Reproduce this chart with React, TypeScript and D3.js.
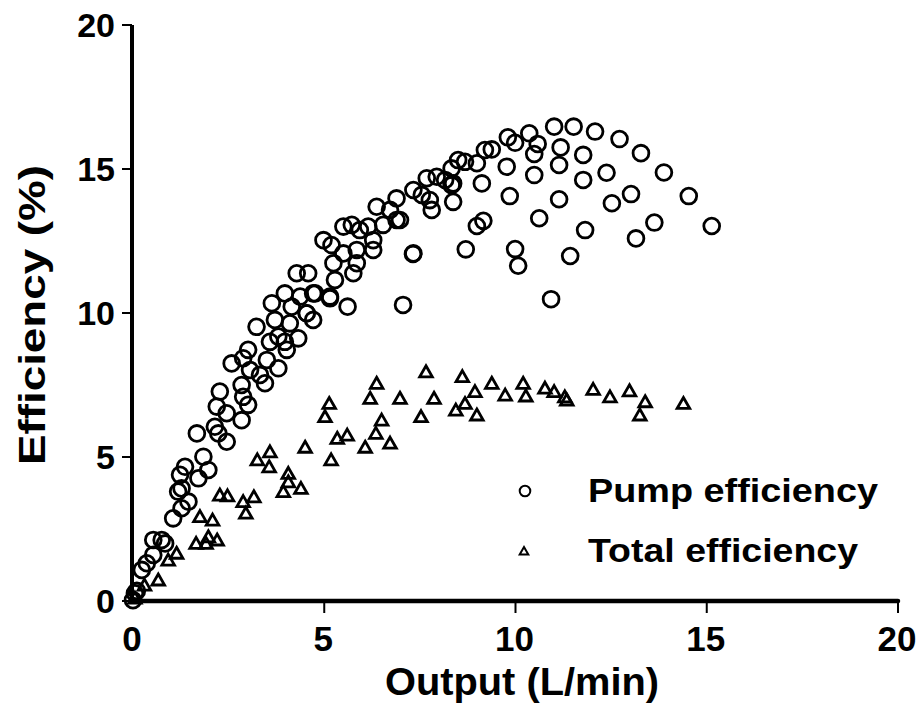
import React from "react";
import * as d3 from "d3";

// Pump efficiency (%) vs Output (L/min)
const pumpX: number[] = [
  0.0, 0.05, 0.1, 0.23, 0.36, 0.53, 0.53, 0.75, 0.84, 1.05, 1.18, 1.27, 1.27, 1.45, 1.23, 1.36, 1.71, 1.84, 1.97, 1.67,
  2.14, 2.23, 2.45, 2.19, 2.45, 2.84, 2.27, 2.84, 2.88, 3.01, 3.45, 3.32, 3.8, 3.5, 3.06, 2.88, 2.58, 3.01, 4.02, 3.58,
  3.97, 3.8, 4.32, 3.23, 3.71, 4.1, 4.54, 4.71, 3.63, 4.15, 4.37, 3.97, 4.71, 5.15, 4.28, 4.58, 5.28, 5.61, 5.76, 5.85,
  5.24, 5.5, 5.85, 5.19, 4.98, 6.28, 6.28, 5.5, 5.72, 5.93, 6.15, 6.54, 6.89, 6.72, 6.37, 6.89, 7.33, 7.55, 7.76, 7.81,
  7.68, 7.94, 8.16, 8.33, 8.37, 8.37, 8.33, 8.5, 8.68, 8.99, 9.2, 9.38, 9.12, 9.85, 9.77, 9.8, 9.99, 10.36, 10.58, 10.49,
  10.49, 11.01, 11.52, 12.08, 12.72, 13.28, 13.88, 14.53, 15.13, 11.18, 11.77, 11.14, 11.77, 12.38, 13.02, 12.52, 13.63, 13.15, 11.82, 11.14,
  10.62, 9.16, 8.99, 8.7, 9.99, 10.07, 11.43, 10.93, 6.98, 7.32, 7.06, 7.33, 5.15, 4.76, 4.54,
];
const pumpY: number[] = [
  0.03, 0.27, 0.35, 1.08, 1.31, 1.6, 2.12, 2.12, 2.0, 2.87, 3.8, 3.91, 3.22, 3.45, 4.38, 4.66, 4.26, 5.01, 4.55, 5.82,
  6.05, 5.82, 5.53, 6.75, 6.52, 6.28, 7.27, 7.5, 7.09, 6.81, 7.56, 7.85, 8.08, 8.37, 8.02, 8.43, 8.25, 8.72, 8.72, 9.0,
  9.0, 9.18, 9.12, 9.52, 9.76, 9.64, 9.99, 9.76, 10.34, 10.22, 10.57, 10.68, 10.68, 10.57, 11.38, 11.38, 11.15, 10.22, 11.38, 11.73,
  11.73, 12.07, 12.19, 12.36, 12.53, 12.19, 12.53, 13.0, 13.06, 12.88, 13.0, 13.06, 13.23, 13.58, 13.69, 13.98, 14.27, 14.1, 13.92, 13.58,
  14.68, 14.73, 14.62, 14.44, 13.86, 14.5, 15.02, 15.31, 15.25, 15.2, 15.66, 15.68, 14.5, 14.06, 15.08, 16.1, 15.91, 16.24, 15.87, 15.52,
  14.79, 16.47, 16.47, 16.3, 16.04, 15.55, 14.88, 14.06, 13.02, 15.75, 15.49, 15.14, 14.62, 14.87, 14.13, 13.81, 13.14, 12.59, 12.88, 13.95,
  13.29, 13.2, 13.02, 12.21, 12.22, 11.64, 11.98, 10.48, 13.23, 12.05, 10.28, 12.07, 10.51, 10.68, 9.99,
];

// Total efficiency (%) vs Output (L/min)
const totalX: number[] = [
  0.05, 0.3, 0.66, 0.92, 1.14, 1.65, 1.91, 1.97, 2.2, 1.75, 2.08, 2.27, 2.47, 2.88, 3.16, 2.95, 3.25, 3.58, 3.56, 4.06,
  4.06, 3.93, 4.39, 4.5, 5.18, 5.34, 5.6, 5.13, 5.02, 6.07, 6.35, 6.72, 6.5, 6.2, 6.37, 6.98, 7.53, 7.66, 7.87, 8.44,
  8.61, 8.68, 8.94, 8.99, 9.38, 9.73, 10.2, 10.27, 10.77, 11.01, 11.29, 11.34, 12.03, 12.47, 12.98, 13.39, 13.25, 14.39,
];
const totalY: number[] = [
  0.1, 0.55, 0.73, 1.42, 1.66, 2.0, 2.0, 2.23, 2.12, 2.93, 2.81, 3.68, 3.65, 3.45, 3.62, 3.05, 4.9, 5.18, 4.66, 4.43,
  4.14, 3.8, 3.91, 5.34, 4.9, 5.65, 5.76, 6.86, 6.4, 5.34, 5.82, 5.48, 6.28, 7.04, 7.56, 7.04, 6.4, 7.96, 7.04, 6.63,
  7.79, 6.86, 7.27, 6.46, 7.56, 7.15, 7.56, 7.12, 7.39, 7.27, 7.09, 6.98, 7.35, 7.09, 7.3, 6.92, 6.46, 6.86,
];

const xTicks: number[] = [0, 5, 10, 15, 20];
const yTicks: number[] = [0, 5, 10, 15, 20];
const seriesNames: string[] = ["Pump efficiency", "Total efficiency"];
const xTitle = "Output (L/min)";
const yTitle = "Efficiency (%)";

const FONT = "'Liberation Sans', Arial, Helvetica, sans-serif";

function triPath(s: number): string {
  return `M0,${-s * 0.95}L${s},${s * 0.8}L${-s},${s * 0.8}Z`;
}

export default function App() {
  const W = 919;
  const H = 711;
  const x = d3.scaleLinear().domain([0, 20]).range([133, 898]);
  const y = d3.scaleLinear().domain([0, 20]).range([601, 25]);

  const pump = pumpX.map((v, i) => [v, pumpY[i]] as [number, number]);
  const total = totalX.map((v, i) => [v, totalY[i]] as [number, number]);

  return (
    <svg
      width={W}
      height={H}
      style={{ position: "absolute", left: 0, top: 0, background: "#fff" }}
      fontFamily={FONT}
    >
      <rect width={W} height={H} fill="#fff" />
      {/* axes */}
      <line x1={x(0) - 1} y1={y(20)} x2={x(0) - 1} y2={y(0)} stroke="#000" strokeWidth={4} />
      <line x1={x(0) - 1} y1={y(0)} x2={x(20)} y2={y(0)} stroke="#000" strokeWidth={4.5} strokeLinecap="round" />
      {yTicks.map((t) => (
        <g key={"yt" + t}>
          <line x1={x(0) - 11} x2={x(0) - 1} y1={y(t)} y2={y(t)} stroke="#000" strokeWidth={2} />
          <text
            x={115}
            y={y(t)}
            dy="0.36em"
            textAnchor="end"
            fontSize={34}
            fontWeight="bold"
          >
            {t}
          </text>
        </g>
      ))}
      {xTicks.map((t) => (
        <g key={"xt" + t}>
          {t > 0 && (
            <line x1={x(t)} x2={x(t)} y1={y(0)} y2={y(0) + 12} stroke="#000" strokeWidth={2} />
          )}
          <text x={x(t) - 1} y={651} textAnchor="middle" fontSize={35} fontWeight="bold">
            {t}
          </text>
        </g>
      ))}
      <text
        x={522}
        y={695}
        textAnchor="middle"
        fontSize={38}
        fontWeight="bold"
        textLength={274}
        lengthAdjust="spacingAndGlyphs"
      >
        {xTitle}
      </text>
      <text
        transform={`translate(45,${315}) rotate(-90)`}
        textAnchor="middle"
        fontSize={37}
        fontWeight="bold"
        textLength={300}
        lengthAdjust="spacingAndGlyphs"
      >
        {yTitle}
      </text>

      {/* data */}
      {total.map(([a, b], i) => (
        <path
          key={"t" + i}
          d={triPath(6.3)}
          transform={`translate(${x(a)},${y(b)})`}
          fill="none"
          stroke="#000"
          strokeWidth={2.8}
          strokeLinejoin="miter"
        />
      ))}
      {pump.map(([a, b], i) => (
        <circle key={"p" + i} cx={x(a)} cy={y(b)} r={7.9} fill="none" stroke="#000" strokeWidth={2.8} />
      ))}

      {/* legend */}
      <circle cx={525} cy={491} r={5.3} fill="none" stroke="#000" strokeWidth={2} />
      <path d={triPath(4.3)} transform="translate(524,551)" fill="none" stroke="#000" strokeWidth={2} />
      <text
        x={588}
        y={502}
        fontSize={34}
        fontWeight="bold"
        textLength={290}
        lengthAdjust="spacingAndGlyphs"
      >
        {seriesNames[0]}
      </text>
      <text
        x={588}
        y={562}
        fontSize={34}
        fontWeight="bold"
        textLength={270}
        lengthAdjust="spacingAndGlyphs"
      >
        {seriesNames[1]}
      </text>
    </svg>
  );
}
